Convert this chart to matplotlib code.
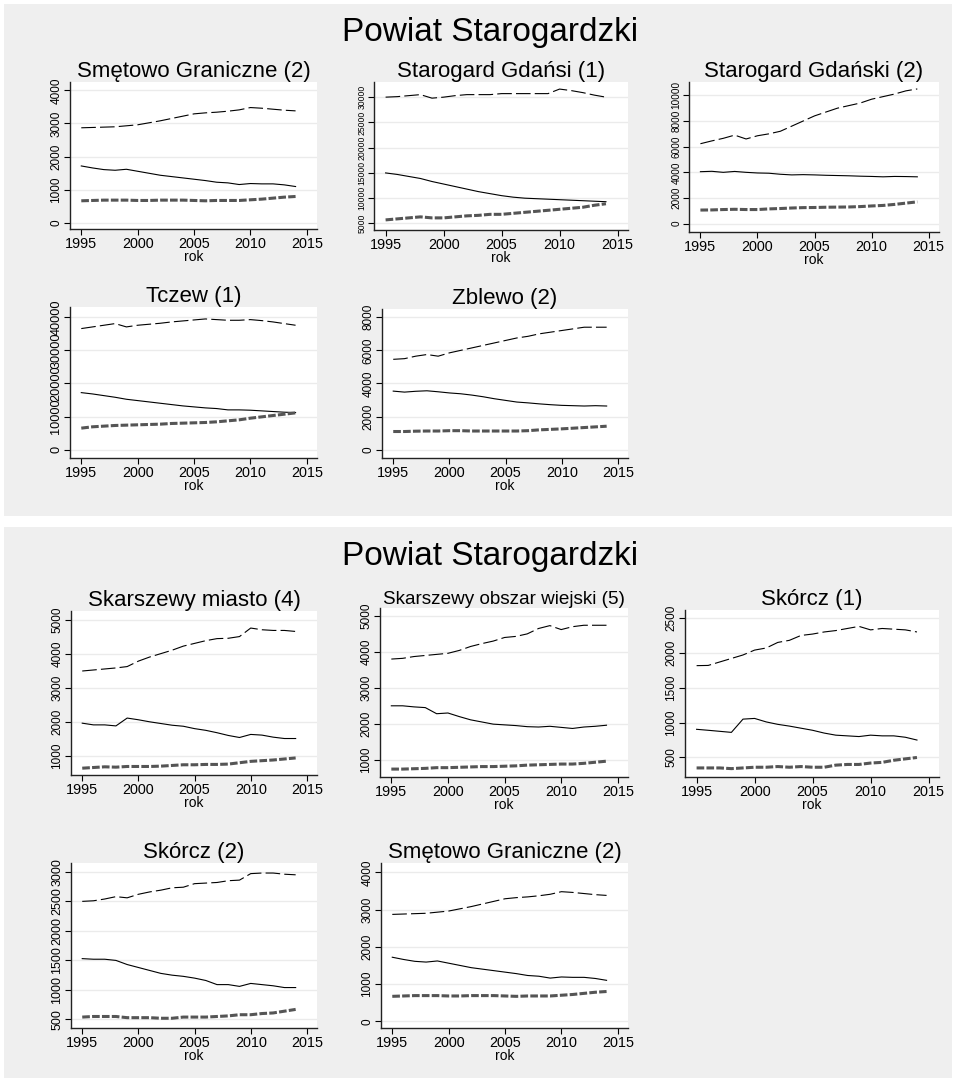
import matplotlib.pyplot as plt
from matplotlib import patches

plt.rcParams['font.family'] = ['Liberation Sans', 'DejaVu Sans']
plt.rcParams['lines.scale_dashes'] = False

years = list(range(1995, 2015))
xticks = [1995, 2000, 2005, 2010, 2015]

# Smętowo Graniczne (2)
smetowo_top = [2870, 2880, 2890, 2900, 2930, 2960, 3020, 3080, 3150, 3220,
               3290, 3320, 3340, 3370, 3410, 3480, 3460, 3430, 3400, 3380]
smetowo_mid = [1720, 1660, 1610, 1590, 1620, 1560, 1500, 1440, 1400, 1360,
               1320, 1280, 1230, 1210, 1160, 1190, 1180, 1180, 1150, 1100]
smetowo_low = [670, 680, 690, 690, 690, 680, 680, 690, 690, 690,
               680, 670, 680, 680, 680, 700, 720, 750, 780, 800]

# Starogard Gdańsi (1)
starogard1_top = [30000, 30100, 30300, 30500, 29800, 30000, 30300, 30500, 30500, 30500,
                  30700, 30700, 30700, 30700, 30700, 31600, 31300, 30900, 30400, 30000]
starogard1_mid = [15000, 14700, 14300, 13900, 13300, 12800, 12300, 11800, 11300, 10900,
                  10500, 10200, 10000, 9900, 9800, 9700, 9600, 9500, 9400, 9300]
starogard1_low = [5700, 5900, 6100, 6300, 6100, 6100, 6300, 6500, 6600, 6800,
                  6800, 7000, 7200, 7400, 7600, 7800, 8000, 8200, 8600, 8900]

# Starogard Gdański (2)
starogard2_top = [6230, 6450, 6650, 6900, 6600, 6850, 7000, 7200, 7600, 8000,
                  8400, 8700, 9000, 9200, 9400, 9700, 9900, 10100, 10350, 10500]
starogard2_mid = [4050, 4080, 4000, 4070, 4000, 3950, 3930, 3850, 3800, 3820,
                  3800, 3770, 3750, 3730, 3700, 3680, 3650, 3680, 3670, 3650]
starogard2_low = [1060, 1070, 1100, 1120, 1100, 1100, 1150, 1180, 1220, 1250,
                  1260, 1280, 1290, 1300, 1330, 1380, 1420, 1500, 1600, 1700]

# Tczew (1)
tczew_top = [36500, 37000, 37500, 38000, 37000, 37500, 37800, 38100, 38500, 38800,
             39100, 39400, 39200, 39000, 39000, 39200, 38900, 38500, 38000, 37500]
tczew_mid = [17200, 16800, 16300, 15800, 15200, 14800, 14400, 14000, 13600, 13200,
             12900, 12600, 12400, 12000, 12000, 11900, 11700, 11500, 11300, 11200]
tczew_low = [6500, 6900, 7100, 7300, 7400, 7500, 7600, 7700, 7900, 8000,
             8100, 8200, 8400, 8700, 9000, 9500, 9900, 10300, 10700, 11100]

# Zblewo (2)
zblewo_top = [5460, 5500, 5650, 5750, 5650, 5850, 6000, 6150, 6300, 6450,
              6600, 6750, 6850, 7000, 7100, 7200, 7300, 7400, 7400, 7400]
zblewo_mid = [3540, 3480, 3530, 3560, 3500, 3430, 3380, 3300, 3200, 3080,
              2980, 2880, 2830, 2770, 2720, 2680, 2660, 2640, 2660, 2640]
zblewo_low = [1100, 1100, 1120, 1130, 1130, 1150, 1150, 1130, 1130, 1130,
              1130, 1130, 1150, 1200, 1230, 1260, 1300, 1340, 1380, 1420]

# Skarszewy miasto (4)
skmiasto_top = [3490, 3520, 3550, 3580, 3620, 3780, 3900, 4000, 4100, 4220,
                4300, 4380, 4440, 4450, 4500, 4750, 4700, 4680, 4680, 4650]
skmiasto_mid = [1960, 1910, 1910, 1880, 2110, 2060, 2000, 1950, 1900, 1870,
                1800, 1750, 1680, 1600, 1540, 1630, 1610, 1550, 1510, 1510]
skmiasto_low = [640, 660, 680, 670, 690, 690, 690, 700, 720, 740,
                740, 750, 750, 760, 800, 840, 860, 880, 910, 940]

# Skarszewy obszar wiejski (5)
skwies_top = [3800, 3820, 3870, 3900, 3930, 3960, 4040, 4150, 4230, 4300,
              4400, 4430, 4500, 4650, 4730, 4620, 4700, 4740, 4740, 4740]
skwies_mid = [2500, 2500, 2470, 2450, 2280, 2300, 2200, 2110, 2050, 1990,
              1970, 1950, 1920, 1910, 1930, 1900, 1870, 1910, 1930, 1960]
skwies_low = [740, 740, 750, 760, 780, 780, 790, 800, 810, 810,
              820, 830, 850, 860, 870, 880, 880, 900, 930, 960]

# Skórcz (1)
skorcz1_top = [1817, 1820, 1870, 1920, 1970, 2040, 2070, 2150, 2180, 2250,
               2270, 2300, 2320, 2350, 2380, 2330, 2350, 2340, 2330, 2300]
skorcz1_mid = [904, 890, 875, 860, 1050, 1060, 1010, 975, 950, 920,
               890, 850, 820, 810, 800, 820, 810, 810, 790, 750]
skorcz1_low = [350, 350, 350, 340, 350, 360, 360, 370, 360, 370,
               360, 360, 390, 400, 400, 420, 430, 460, 480, 500]

# Skórcz (2)
skorcz2_top = [2500, 2510, 2540, 2580, 2560, 2620, 2660, 2690, 2730, 2740,
               2800, 2810, 2820, 2850, 2860, 2970, 2980, 2980, 2960, 2950]
skorcz2_mid = [1530, 1520, 1520, 1500, 1430, 1380, 1330, 1280, 1250, 1230,
               1200, 1160, 1090, 1090, 1060, 1110, 1090, 1070, 1040, 1040]
skorcz2_low = [540, 550, 550, 550, 530, 530, 530, 520, 520, 540,
               540, 540, 550, 560, 580, 580, 600, 610, 640, 670]

W, H = 958, 1086
fig = plt.figure(figsize=(W / 100, H / 100), dpi=100, facecolor='white')

# grey backgrounds of the two combined graphs
for top, bottom in [(4, 516), (527, 1078)]:
    fig.add_artist(patches.Rectangle((4 / W, 1 - bottom / H), 948 / W, (bottom - top) / H,
                                     transform=fig.transFigure, facecolor='#efefef',
                                     edgecolor='none', zorder=0))
    fig.text(490 / W, 1 - (top + 29) / H, 'Powiat Starogardzki', fontsize=24,
             ha='center', va='center')


def draw(box, title, top, mid, low, yticks, ylim, yfs=8.5, tfs=16):
    l, t, r, b = box
    ax = fig.add_axes([l / W, 1 - b / H, (r - l) / W, (b - t) / H])
    ax.set_facecolor('white')
    ax.plot(years, top, color='black', lw=0.8, dashes=(10.5, 3))
    ax.plot(years, mid, color='black', lw=0.8)
    ax.plot(years, low, color='#555555', lw=2.2, dashes=(5.5, 1.6))
    ax.set_xlim(1994.0, 2015.9)
    ax.set_ylim(*ylim)
    ax.set_xticks(xticks)
    ax.set_yticks(yticks)
    ax.grid(axis='y', color='#ebebeb', lw=1)
    ax.set_axisbelow(True)
    for s in ['top', 'right']:
        ax.spines[s].set_visible(False)
    for s in ['left', 'bottom']:
        ax.spines[s].set_color('#222222')
        ax.spines[s].set_linewidth(1)
    ax.tick_params(axis='x', labelsize=10.4, length=4, width=0.8, pad=1.5)
    ax.tick_params(axis='y', labelsize=yfs, length=4, width=0.8, pad=1.5,
                   labelrotation=90)
    for lbl in ax.get_yticklabels():
        lbl.set_va('center')
    ax.set_xlabel('rok', fontsize=10, labelpad=-0.5)
    ax.set_title(title, fontsize=tfs, pad=2)
    return ax


# panel 1
draw((70, 82, 317, 229), 'Smętowo Graniczne (2)', smetowo_top, smetowo_mid, smetowo_low,
     [0, 1000, 2000, 3000, 4000], (-180, 4250))
draw((374, 82, 628, 230), 'Starogard Gdańsi (1)', starogard1_top, starogard1_mid, starogard1_low,
     [5000, 10000, 15000, 20000, 25000, 30000], (3700, 33000), yfs=6.2)
draw((689, 82, 939, 232), 'Starogard Gdański (2)', starogard2_top, starogard2_mid, starogard2_low,
     [0, 2000, 4000, 6000, 8000, 10000], (-650, 11040), yfs=7.2)
draw((70, 307, 317, 458), 'Tczew (1)', tczew_top, tczew_mid, tczew_low,
     [0, 10000, 20000, 30000, 40000], (-2500, 43000), yfs=9.2)
draw((382, 309, 628, 458), 'Zblewo (2)', zblewo_top, zblewo_mid, zblewo_low,
     [0, 2000, 4000, 6000, 8000], (-500, 8500))

# panel 2
draw((71, 611, 317, 775), 'Skarszewy miasto (4)', skmiasto_top, skmiasto_mid, skmiasto_low,
     [1000, 2000, 3000, 4000, 5000], (440, 5250))
draw((380, 608, 628, 777), 'Skarszewy obszar wiejski (5)', skwies_top, skwies_mid, skwies_low,
     [1000, 2000, 3000, 4000, 5000], (520, 5220), tfs=13.6)
draw((685, 610, 939, 777), 'Skórcz (1)', skorcz1_top, skorcz1_mid, skorcz1_low,
     [500, 1000, 1500, 2000, 2500], (220, 2615))
draw((71, 863, 317, 1028), 'Skórcz (2)', skorcz2_top, skorcz2_mid, skorcz2_low,
     [500, 1000, 1500, 2000, 2500, 3000], (355, 3150), yfs=9)
draw((381, 863, 628, 1028), 'Smętowo Graniczne (2)', smetowo_top, smetowo_mid, smetowo_low,
     [0, 1000, 2000, 3000, 4000], (-180, 4250))

fig.savefig('out.png', dpi=100, facecolor='white')
